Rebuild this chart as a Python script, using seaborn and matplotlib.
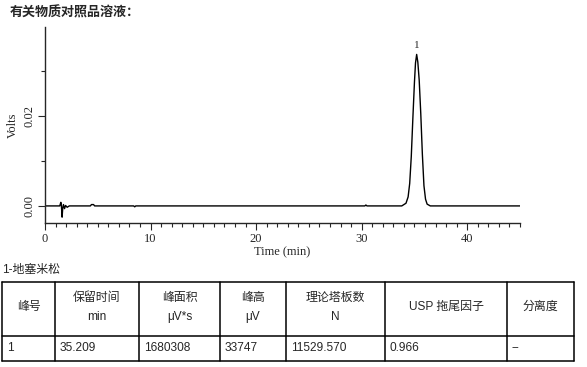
import numpy as np
import pandas as pd
import seaborn as sns
import matplotlib.pyplot as plt
from matplotlib.ticker import MultipleLocator

# chromatogram trace (time in min, signal in volts)
time_min = [0, 1.40, 1.50, 1.55, 1.62, 1.68, 1.75, 1.85, 1.95, 2.10, 2.30,
            4.30, 4.40, 4.60, 4.70, 8.40, 8.50, 8.60, 30.30, 30.40, 30.50,
            33.80, 34.20, 34.40, 34.55, 34.70, 34.85, 35.00, 35.10, 35.21,
            35.32, 35.45, 35.60, 35.75, 35.90, 36.05, 36.20, 36.50, 45.0]
volts = [0, 0, 0.0008, 0.0002, -0.0025, -0.0005, 0.0003, -0.0006, 0.0001, -0.0003, 0,
         0, 0.0003, 0.0003, 0, 0, -0.0002, 0, 0, 0.0002, 0,
         0, 0.0006, 0.0020, 0.0050, 0.0110, 0.0195, 0.0275, 0.0318, 0.0337,
         0.0320, 0.0280, 0.0205, 0.0115, 0.0045, 0.0015, 0.0004, 0, 0]

peak_labels = ['1']
peak_times = [35.21]
peak_heights = [0.0337]

title = '有关物质对照品溶液：'
compound = '1-地塞米松'
headers = [('峰号', ''), ('保留时间', 'min'), ('峰面积', 'μV*s'), ('峰高', 'μV'),
           ('理论塔板数', 'N'), ('USP 拖尾因子', ''), ('分离度', '')]
row = ['1', '35.209', '1680308', '33747', '11529.570', '0.966', '--']

sns.set_style('ticks')
serif = ['Liberation Serif', 'DejaVu Serif']
sans = ['Liberation Sans', 'Noto Sans CJK SC', 'DejaVu Sans']

W, H = 587, 367
fig = plt.figure(figsize=(W / 100, H / 100), dpi=100)

# chromatogram axes (pixel box: x 45..520, y 27..223)
ax = fig.add_axes([45 / W, 1 - 223 / H, 475 / W, 196 / H])
df = pd.DataFrame({'t': time_min, 'v': volts})
sns.lineplot(data=df, x='t', y='v', ax=ax, color='black', lw=1,
             estimator=None, sort=False)
ax.set_xlim(0, 45)
ax.set_ylim(-0.0038, 0.0398)
ax.xaxis.set_major_locator(MultipleLocator(10))
ax.xaxis.set_minor_locator(MultipleLocator(1))
ax.yaxis.set_major_locator(MultipleLocator(0.02))
ax.yaxis.set_minor_locator(MultipleLocator(0.01))
ax.yaxis.set_major_formatter(plt.FuncFormatter(lambda v, p: f'{v:.2f}'))
ax.tick_params(which='major', length=5, width=0.8, labelsize=9, pad=2)
ax.tick_params(which='minor', length=3, width=0.8)
for lab in ax.get_xticklabels() + ax.get_yticklabels():
    lab.set_family(serif)
for lab in ax.get_yticklabels():
    lab.set_rotation(90)
    lab.set_va('center')
sns.despine(ax=ax)
for sp in ax.spines.values():
    sp.set_linewidth(1)
ax.set_xlabel('Time (min)', family=serif, fontsize=9, labelpad=1)
ax.set_ylabel('Volts', family=serif, fontsize=9, labelpad=3)
for lab, t, h in zip(peak_labels, peak_times, peak_heights):
    ax.annotate(lab, (t, h), xytext=(0, 3), textcoords='offset points',
                ha='center', va='bottom', family=serif, fontsize=8)

# overlay in pixel coordinates for title and table
ov = fig.add_axes([0, 0, 1, 1], zorder=-1)
ov.set_xlim(0, W)
ov.set_ylim(H, 0)
ov.axis('off')

ov.text(10, 13, title, family=['Noto Sans CJK SC', 'DejaVu Sans'],
        fontweight='heavy', fontsize=9.4, va='center', ha='left')
ov.text(2, 270, compound, family=sans, fontsize=8.6, va='center', ha='left')

cols = [2, 55, 139, 220, 286, 385, 507, 574]
top, mid, bot = 282, 336, 361
for y in [top, mid, bot]:
    ov.plot([cols[0], cols[-1]], [y, y], color='black', lw=1.1)
for x in cols:
    ov.plot([x, x], [top, bot], color='black', lw=1.1)

for i, (h1, h2) in enumerate(headers):
    cx = (cols[i] + cols[i + 1]) / 2
    if h2:
        ov.text(cx, 298, h1, family=sans, fontsize=8.6, ha='center', va='center')
        ov.text(cx, 317, h2, family=sans, fontsize=8.6, ha='center', va='center')
    else:
        ov.text(cx, 307, h1, family=sans, fontsize=8.6, ha='center', va='center')
    ov.text(cols[i] + 5, 348, row[i], family=sans, fontsize=8.6,
            ha='left', va='center')

fig.savefig('out.png', dpi=100)
